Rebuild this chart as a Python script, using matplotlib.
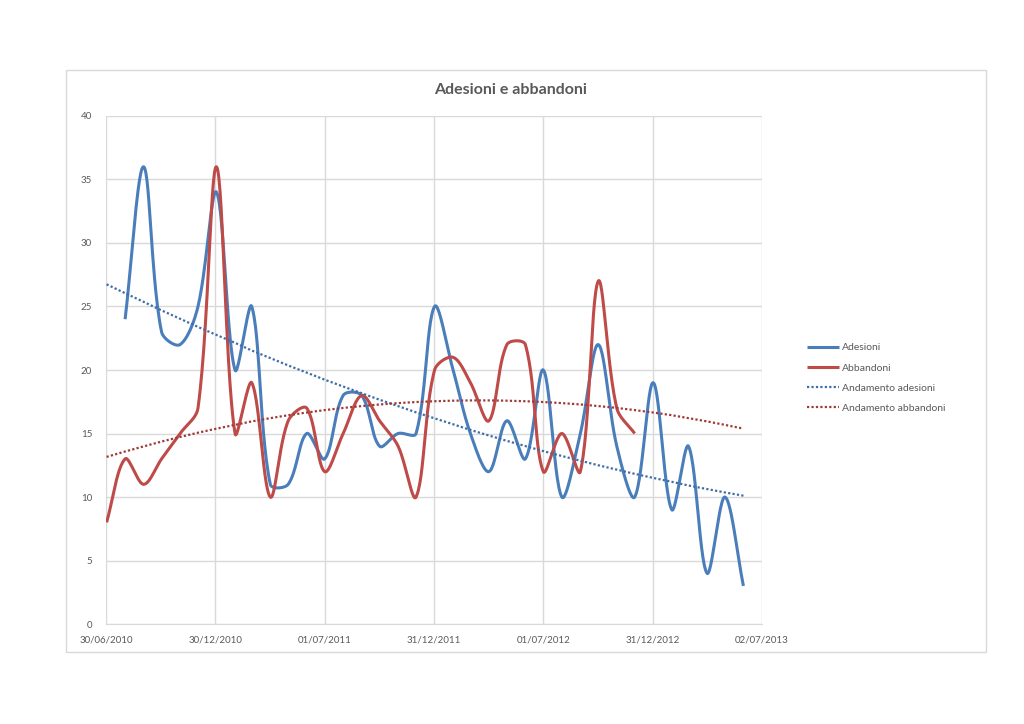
import numpy as np
import pandas as pd
import matplotlib
matplotlib.use("Agg")
import matplotlib.pyplot as plt
import matplotlib.dates as mdates
from matplotlib.patches import Rectangle

# ── data (monthly, first of month) ────────────────────────────────────────────
adesioni_start = "2010-08-01"
adesioni = [24, 36, 23, 22, 25, 34, 20, 25, 11, 11, 15, 13,
            18, 18, 14, 15, 15, 25, 20, 15, 12, 16, 13, 20,
            10, 15, 22, 14, 10, 19, 9, 14, 4, 10, 3]

abbandoni_start = "2010-07-01"
abbandoni = [8, 13, 11, 13, 15, 17, 36, 15, 19, 10, 16, 17,
             12, 15, 18, 16, 14, 10, 20, 21, 19, 16, 22, 22,
             12, 15, 12, 27, 17, 15]

x_ticks = ["2010-06-30", "2010-12-30", "2011-07-01", "2011-12-31",
           "2012-07-01", "2012-12-31", "2013-07-02"]
y_ticks = [0, 5, 10, 15, 20, 25, 30, 35, 40]

BLUE = "#4A7EBB"
RED = "#BE4B48"
BLUE_TR = "#3E6EA6"
RED_TR = "#9E3A38"
GRID = "#D9D9D9"
TXT = "#595959"
FONT = "Lato"

# ── helpers ───────────────────────────────────────────────────────────────────
def smooth(x, y, sx, sy, n=30):
    """Excel-like smoothed line: Bezier whose handles scale with chord length
    (measured in screen units sx, sy)."""
    P = np.column_stack([np.asarray(x, float), np.asarray(y, float)])
    S = P * [sx, sy]
    P = np.vstack([P[0], P, P[-1]])
    S = np.vstack([S[0], S, S[-1]])
    t = np.linspace(0, 1, n)[:, None]
    out = []
    for i in range(1, len(P) - 2):
        p0, p1, p2, p3 = P[i - 1], P[i], P[i + 1], P[i + 2]
        d01 = np.linalg.norm(S[i] - S[i - 1])
        d12 = np.linalg.norm(S[i + 1] - S[i])
        d23 = np.linalg.norm(S[i + 2] - S[i + 1])
        f1 = d12 / (d01 + d12) / 3 if d01 + d12 > 0 else 0
        f2 = d12 / (d12 + d23) / 3 if d12 + d23 > 0 else 0
        c1 = p1 + (p2 - p0) * f1
        c2 = p2 - (p3 - p1) * f2
        seg = ((1 - t) ** 3) * p1 + 3 * ((1 - t) ** 2) * t * c1 \
            + 3 * (1 - t) * t ** 2 * c2 + t ** 3 * p2
        out.append(seg if i == 1 else seg[1:])
    s = np.vstack(out)
    return s[:, 0], s[:, 1]

# dates
months_all = pd.date_range(abbandoni_start, periods=36, freq="MS")
d_ad = pd.date_range(adesioni_start, periods=len(adesioni), freq="MS")
d_ab = pd.date_range(abbandoni_start, periods=len(abbandoni), freq="MS")
n_all = mdates.date2num(months_all.to_pydatetime())
n_ad = mdates.date2num(d_ad.to_pydatetime())
n_ab = mdates.date2num(d_ab.to_pydatetime())

# trendlines (category index like Excel line chart), both polynomial order 2
idx_all = np.arange(1, len(months_all) + 1)
idx_ad = idx_all[1:1 + len(adesioni)]
idx_ab = idx_all[:len(abbandoni)]
quad_ad = np.polyfit(idx_ad, adesioni, 2)
quad_ab = np.polyfit(idx_ab, abbandoni, 2)
trend_end = len(adesioni) + 1
tr_x = n_all[:trend_end]
tr_ad = np.polyval(quad_ad, idx_all[:trend_end])
tr_ab = np.polyval(quad_ab, idx_all[:trend_end])

# ── figure ────────────────────────────────────────────────────────────────────
fig = plt.figure(figsize=(10.24, 7.24), dpi=100)
fig.patches.append(Rectangle((0.0645, 0.0994), 0.8984, 0.8039,
                             transform=fig.transFigure, fill=False,
                             edgecolor=GRID, lw=1))
ax_rect = [0.1035, 0.1381, 0.6406, 0.7017]
ax = fig.add_axes(ax_rect)

xt = mdates.date2num(pd.to_datetime(x_ticks).to_pydatetime())
px_x = ax_rect[2] * 1024 / (xt[-1] - xt[0])
px_y = ax_rect[3] * 724 / 40.0

sx, sy = smooth(n_ad, adesioni, px_x, px_y)
ax.plot(sx, sy, color=BLUE, lw=2.2, label="Adesioni", solid_capstyle="butt")
sx, sy = smooth(n_ab, abbandoni, px_x, px_y)
ax.plot(sx, sy, color=RED, lw=2.2, label="Abbandoni", solid_capstyle="butt")
ax.plot(tr_x, tr_ad, color=BLUE_TR, lw=1.6, ls=(0, (1, 1)),
        label="Andamento adesioni")
ax.plot(tr_x, tr_ab, color=RED_TR, lw=1.6, ls=(0, (1, 1)),
        label="Andamento abbandoni")

ax.set_xlim(xt[0], xt[-1])
ax.set_ylim(0, 40)
ax.set_xticks(xt)
ax.set_xticklabels(pd.to_datetime(x_ticks).strftime("%d/%m/%Y"))
ax.set_yticks(y_ticks)
ax.grid(True, color=GRID, lw=1)
ax.set_axisbelow(True)
for s in ["top", "right", "left"]:
    ax.spines[s].set_visible(False)
ax.spines["bottom"].set_color(GRID)
ax.tick_params(length=0, labelsize=7, labelcolor=TXT, pad=8)
ax.tick_params(axis="y", pad=10)
for lab in ax.get_xticklabels() + ax.get_yticklabels():
    lab.set_fontfamily(FONT)

fig.text(0.499, 0.8757, "Adesioni e abbandoni", ha="center", va="center",
         fontsize=11.5, fontweight="bold", color=TXT, family=FONT)

ax.legend(loc="center left", bbox_to_anchor=(1.055, 0.484), frameon=False,
          prop={"family": FONT, "size": 7.5}, labelcolor=TXT,
          handlelength=3.0, handletextpad=0.3, labelspacing=1.05)

fig.savefig("out.png", dpi=100)
